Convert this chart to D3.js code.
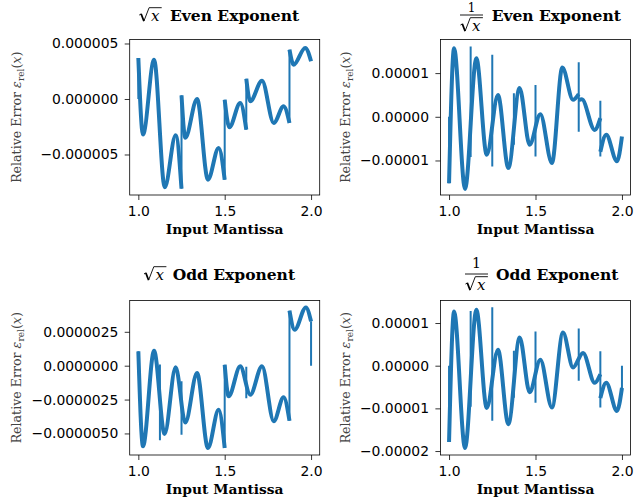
<!DOCTYPE html>
<html><head><meta charset="utf-8">
<script src="https://cdn.jsdelivr.net/npm/d3@7"></script>
<style>body{margin:0;background:#fff}svg{display:block}</style>
</head><body>
<svg id="chart" width="634" height="499"></svg>
<script>
// ---------- data (relative error values in units of 1e-6) ----------
const mantissaTicks = [1.0, 1.5, 2.0];
const mantissaTickLabels = ["1.0", "1.5", "2.0"];

const sqrtEvenX = [[1.0, 1.027, 1.091, 1.153, 1.216, 1.25], [1.25, 1.272, 1.34, 1.403, 1.465, 1.5], [1.5, 1.527, 1.59, 1.625], [1.625, 1.648, 1.716, 1.784, 1.841, 1.875], [1.875, 1.899, 1.966, 2.0]];
const sqrtEvenY = [[3.69, -3.2, 3.54, -7.95, -3.27, -8.08], [0.33, -3.5, 0.0, -7.27, -4.41, -7.27], [-0.06, -2.55, -0.36, -2.76], [1.83, -0.21, 1.65, -2.16, -0.66, -2.16], [4.44, 3.09, 4.6, 3.4]];
const sqrtEvenSpikes = [[1.0, 0, 3.69], [1.25, -8.08, 0.33], [1.5, -7.27, -0.06], [1.625, -2.76, 1.83], [1.875, -2.16, 4.44]];
const sqrtEvenTicks = [-5, 0, 5];
const sqrtEvenTickLabels = ["\u22120.000005", "0.000000", "0.000005"];

const rsqrtEvenX = [[1.0, 1.029, 1.0925, 1.158, 1.218, 1.283, 1.343, 1.408, 1.466, 1.528, 1.595, 1.655, 1.717, 1.75], [1.75, 1.768, 1.842, 1.875], [1.875, 1.909, 1.971, 2.0]];
const rsqrtEvenY = [[-15.2, 15.7, -16.5, 13.4, -8.7, 5.0, -11.7, 6.6, -6.4, 0.6, -10.6, 11.3, 3.9, 5.2], [3.8, 4.0, -3.0, -0.3], [-8.0, -4.1, -10.2, -4.5]];
const rsqrtEvenSpikes = [[1.0, -15.2, 0], [1.125, -9.2, 16.1], [1.25, -11.4, 14.2], [1.375, -6.4, 5.4], [1.5, -9.1, 7.3], [1.75, -3.4, 12.5], [1.875, -9.1, 3.7]];
const rsqrtEvenTicks = [-10, 0, 10];
const rsqrtEvenTickLabels = ["\u22120.00001", "0.00000", "0.00001"];

const sqrtOddX = [[1.0, 1.027, 1.091, 1.152, 1.216, 1.272, 1.34, 1.403, 1.465, 1.5], [1.5, 1.523, 1.59, 1.648, 1.716, 1.784, 1.841, 1.875], [1.875, 1.905, 1.970, 2.0]];
const sqrtOddY = [[1.06, -5.95, 1.1, -5.04, -0.12, -4.2, -0.54, -6.07, -3.25, -6.07], [0.07, -2.26, -0.05, -2.14, -0.05, -4.1, -2.33, -4.06], [4.06, 2.65, 4.3, 3.27]];
const sqrtOddSpikes = [[1.0, 0, 1.06], [1.125, -5.5, 0.08], [1.25, -5.1, -1.15], [1.5, -6.07, 0.07], [1.625, -2.4, -0.07], [1.875, -4.06, 4.06], [2.0, 0, 3.27]];
const sqrtOddTicks = [-5, -2.5, 0, 2.5];
const sqrtOddTickLabels = ["\u22120.0000050", "\u22120.0000025", "0.0000000", "0.0000025"];

const rsqrtOddX = [[1.0, 1.029, 1.0925, 1.158, 1.218, 1.283, 1.343, 1.4085, 1.466, 1.528, 1.595, 1.659, 1.717, 1.775, 1.842, 1.875], [1.875, 1.909, 1.971, 2.0]];
const rsqrtOddY = [[-17.9, 12.7, -19.3, 13.1, -9.9, 3.75, -13.7, 6.6, -6.2, 1.4, -9.8, 7.8, -0.4, 3.0, -4.0, -2.0], [-7.6, -4.0, -10.6, -5.2]];
const rsqrtOddSpikes = [[1.0, -17.9, 0], [1.125, -9.6, 12.8], [1.25, -12.9, 13.7], [1.375, -7.5, 3.5], [1.5, -8.7, 8.0], [1.75, -3.5, 8.7], [1.875, -9.8, 3.4], [2.0, -5.2, 0]];
const rsqrtOddTicks = [-20, -10, 0, 10];
const rsqrtOddTickLabels = ["\u22120.00002", "\u22120.00001", "0.00000", "0.00001"];

const xLabelText = "Input Mantissa";

// ---------- layout ----------
const panels = [
  {xs: sqrtEvenX, ys: sqrtEvenY, spikes: sqrtEvenSpikes, ticks: sqrtEvenTicks, tickLabels: sqrtEvenTickLabels,
   box: [129.7, 39.5, 319.7, 195], yDom: [-8.65, 5.36], title: {kind: "sqrt", word: "Even Exponent", mx: 139.3, tx: 170, base: 20.5}, ylx: 21},
  {xs: rsqrtEvenX, ys: rsqrtEvenY, spikes: rsqrtEvenSpikes, ticks: rsqrtEvenTicks, tickLabels: rsqrtEvenTickLabels,
   box: [440.4, 39.5, 630.6, 195], yDom: [-17.9, 17.69], title: {kind: "frac", word: "Even Exponent", mx: 460, tx: 491.7, base: 20.5, numBase: 11.6}, ylx: 350},
  {xs: sqrtOddX, ys: sqrtOddY, spikes: sqrtOddSpikes, ticks: sqrtOddTicks, tickLabels: sqrtOddTickLabels,
   box: [129.7, 300.5, 319.7, 455], yDom: [-6.59, 4.81], title: {kind: "sqrt", word: "Odd Exponent", mx: 144, tx: 172.7, base: 279.5}, ylx: 21},
  {xs: rsqrtOddX, ys: rsqrtOddY, spikes: rsqrtOddSpikes, ticks: rsqrtOddTicks, tickLabels: rsqrtOddTickLabels,
   box: [440.4, 300.5, 630.6, 455], yDom: [-20.93, 15.28], title: {kind: "frac", word: "Odd Exponent", mx: 465, tx: 496, base: 279.5, numBase: 268.3}, ylx: 350}
];

const svg = d3.select("#chart");
const blue = "#1f77b4";
const sans = "'DejaVu Sans', sans-serif";
const serif = "'DejaVu Serif', serif";

function drawSqrt(g, x0, b) {
  g.append("path").attr("d", `M${x0},${b-5.5} L${x0+1.8},${b-6.6}`).attr("stroke", "#000").attr("stroke-width", 1).attr("fill", "none");
  g.append("path").attr("d", `M${x0+1.8},${b-6.6} L${x0+4.6},${b+0.6}`).attr("stroke", "#000").attr("stroke-width", 1.7).attr("fill", "none");
  g.append("path").attr("d", `M${x0+4.6},${b+0.6} L${x0+9.8},${b-12.8} L${x0+22.4},${b-12.8}`).attr("stroke", "#000").attr("stroke-width", 0.9).attr("fill", "none");
  g.append("text").attr("x", x0 + 11.6).attr("y", b).attr("font-family", serif).attr("font-style", "italic")
    .attr("font-size", 15).text("x");
}

panels.forEach(p => {
  const [L, T, R, B] = p.box;
  const x = d3.scaleLinear().domain([0.95, 2.05]).range([L, R]);
  const y = d3.scaleLinear().domain(p.yDom).range([B, T]);
  const g = svg.append("g");

  const cid = "c" + Math.round(L) + "_" + Math.round(T);
  svg.append("clipPath").attr("id", cid).append("rect").attr("x", L).attr("y", T).attr("width", R - L).attr("height", B - T);
  const plot = g.append("g").attr("clip-path", `url(#${cid})`);

  // spikes / jumps (thin)
  plot.selectAll("line.spike").data(p.spikes).join("line").attr("class", "spike")
    .attr("x1", d => x(d[0])).attr("x2", d => x(d[0]))
    .attr("y1", d => y(d[1])).attr("y2", d => y(d[2]))
    .attr("stroke", blue).attr("stroke-width", 2);

  // smooth segments (thick noisy band)
  const line = d3.line().x(d => x(d[0])).y(d => y(d[1])).curve(d3.curveMonotoneX);
  p.xs.forEach((seg, i) => {
    const pts = seg.map((v, j) => [v, p.ys[i][j]]);
    plot.append("path").attr("d", line(pts)).attr("fill", "none").attr("stroke", blue)
      .attr("stroke-width", 4).attr("stroke-linejoin", "round").attr("stroke-linecap", "butt");
  });

  // axes
  const ax = g.append("g").attr("transform", `translate(0,${B})`)
    .call(d3.axisBottom(x).tickValues(mantissaTicks).tickFormat((d, i) => mantissaTickLabels[i]).tickSize(5).tickSizeOuter(0).tickPadding(6.6));
  const ay = g.append("g").attr("transform", `translate(${L},0)`)
    .call(d3.axisLeft(y).tickValues(p.ticks).tickFormat((d, i) => p.tickLabels[i]).tickSize(5).tickSizeOuter(0).tickPadding(6.4));
  [ax, ay].forEach(a => {
    a.select(".domain").remove();
    a.selectAll("text").attr("font-family", sans).attr("font-size", 13.9).attr("fill", "#000");
    a.selectAll("line").attr("stroke", "#000").attr("stroke-width", 0.8);
  });

  // frame
  g.append("rect").attr("x", L).attr("y", T).attr("width", R - L).attr("height", B - T)
    .attr("fill", "none").attr("stroke", "#000").attr("stroke-width", 0.8);

  // x label
  g.append("text").attr("x", (L + R) / 2).attr("y", B + 39).attr("text-anchor", "middle")
    .attr("font-family", serif).attr("font-weight", "bold").attr("font-size", 13.8).text(xLabelText);

  // y label
  const yl = g.append("text").attr("transform", `translate(${p.ylx},${(T + B) / 2}) rotate(-90)`)
    .attr("text-anchor", "middle").attr("font-family", serif).attr("font-size", 12.6).attr("fill", "#444");
  yl.append("tspan").text("Relative Error ");
  yl.append("tspan").attr("font-style", "italic").text("\u03b5");
  yl.append("tspan").attr("font-size", 9).attr("dy", 2.5).text("rel");
  yl.append("tspan").attr("dy", -2.5).text("(");
  yl.append("tspan").attr("font-style", "italic").text("x");
  yl.append("tspan").text(")");

  // title
  const t = p.title;
  const tg = svg.append("g");
  if (t.kind === "sqrt") {
    drawSqrt(tg, t.mx, t.base);
  } else {
    const barY = t.base - 5.5;
    tg.append("line").attr("x1", t.mx).attr("x2", t.mx + 23).attr("y1", barY).attr("y2", barY).attr("stroke", "#000").attr("stroke-width", 0.9);
    tg.append("text").attr("x", t.mx + 11.5).attr("y", t.numBase).attr("text-anchor", "middle")
      .attr("font-family", serif).attr("font-size", t.kind === "frac" && t.numBase < 15 ? 12 : 14).text("1");
    drawSqrt(tg, t.mx + 0.5, t.base + 10);
  }
  tg.append("text").attr("x", t.tx).attr("y", t.base).attr("font-family", serif).attr("font-weight", "bold")
    .attr("font-size", 15.5).text(t.word);
});
</script>
</body></html>
